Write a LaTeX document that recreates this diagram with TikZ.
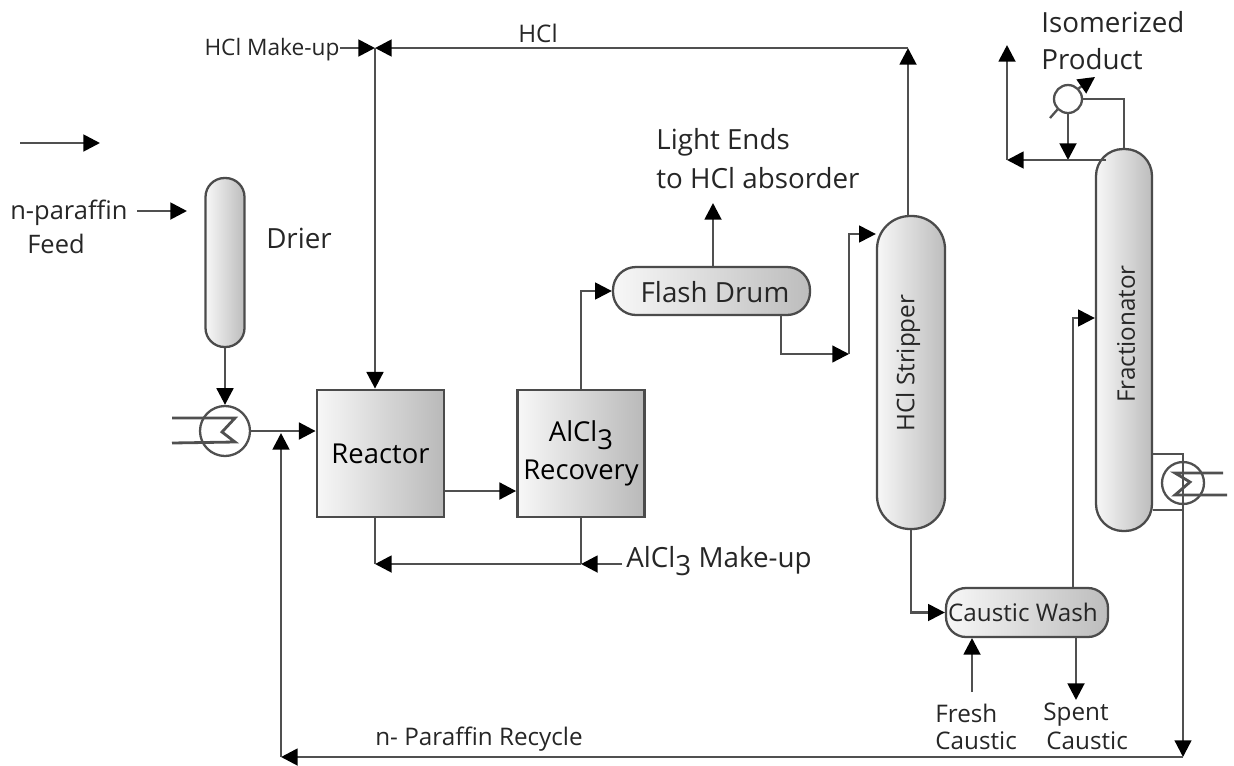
\documentclass[tikz,border=0pt]{standalone}
\usepackage{fontspec}
\setmainfont{Open Sans}
\usetikzlibrary{arrows.meta,calc}
\definecolor{pline}{RGB}{80,80,80}
\definecolor{pedge}{RGB}{75,75,75}

\begin{document}
\begin{tikzpicture}[
    x=0.02cm, y=-0.02cm,
    flow/.style={-{Triangle[length=9.5pt, width=9.5pt, color=black]}, pline, line width=1.6pt},
    pipe/.style={pline, line width=1.6pt},
    thin_pipe/.style={pline, line width=1.3pt},
    column/.style={draw=pedge, line width=1.3pt, inner sep=0pt, left color=gray!6, right color=gray!52},
    unit_box/.style={draw=pedge, line width=1.6pt, inner sep=0pt, minimum size=2.54cm, left color=gray!6, right color=gray!55, align=center, font=\fontsize{15.6}{21.5}\selectfont},
    exchanger/.style={circle, draw=pline, line width=1.3pt, fill=white, inner sep=0pt},
    big_label/.style={font=\fontsize{15.8}{21}\selectfont, text=black!85, inner sep=0pt},
    mid_label/.style={font=\fontsize{13.8}{18}\selectfont, text=black!85, inner sep=0pt},
    small_label/.style={font=\fontsize{12.9}{16}\selectfont, text=black!85, inner sep=0pt}
]
\useasboundingbox (0,0) rectangle (1234,765);

% Columns
\node[column, minimum width=39*0.02cm, minimum height=169*0.02cm, rounded corners=19*0.02cm] (drier) at (225,262.5) {};
\node[column, minimum width=68*0.02cm, minimum height=313*0.02cm, rounded corners=33*0.02cm] (stripper) at (911,372.5) {};
\node[column, minimum width=56*0.02cm, minimum height=382*0.02cm, rounded corners=27*0.02cm] (fractionator) at (1124,340) {};

% Drums
\node[column, minimum width=197*0.02cm, minimum height=48*0.02cm, rounded corners=23*0.02cm] (flash) at (711.5,291) {};
\node[column, minimum width=162*0.02cm, minimum height=49*0.02cm, rounded corners=20*0.02cm] (wash) at (1027,612.5) {};

% Boxes
\node[unit_box] (reactor) at (380.5,453.5) {Reactor};
\node[unit_box] (recovery) at (581,453.5) {AlCl\raisebox{-0.55ex}{3}\\Recovery};

% Exchangers
\node[exchanger, minimum size=50*0.02cm] (hx_feed) at (225,431) {};
\node[exchanger, minimum size=42*0.02cm] (hx_frac) at (1183,483) {};
\node[exchanger, minimum size=28*0.02cm] (cond) at (1068,99) {};

% Free ends
\coordinate (in_top) at (20,143);
\coordinate (in_top_end) at (100,143);
\coordinate (feed_a) at (137,211);
\coordinate (feed_b) at (187,211);
\coordinate (hcl_corner) at (375,48);
\coordinate (makeup_a) at (340,48);
\coordinate (stripper_top) at (908,216);
\coordinate (hcl_top) at (908,48);
\coordinate (alcl_join) at (581,564);
\coordinate (alcl_in) at (622,564);
\coordinate (flash_out) at (781,315);
\coordinate (flash_bend) at (849,354);
\coordinate (light_end) at (713,203);
\coordinate (fresh_a) at (972,692);
\coordinate (fresh_b) at (972,638);
\coordinate (spent_a) at (1076,637);
\coordinate (spent_b) at (1076,700);
\coordinate (frac_feed) at (1073,318);
\coordinate (prod_corner) at (1007,160);
\coordinate (prod_end) at (1007,45);
\coordinate (cond_vent) at (1050,118);
\coordinate (cond_tip) at (1095,77);
\coordinate (recycle_r) at (1183,757);
\coordinate (recycle_l) at (281,757);
\coordinate (recycle_up) at (281,433);

% Feed side
\draw[flow] (in_top) -- (in_top_end);
\draw[flow] (feed_a) -- (feed_b);
\draw[flow] (drier.south) -- (hx_feed.north);
\draw[flow] (hx_feed.east) -- (hx_feed.east -| reactor.west);
\draw[pipe] (172,418) -- (235,418) -- (222,432) -- (235,442) -- (172,443);

% HCl loop
\draw[flow] (stripper_top) -- (hcl_top);
\draw[flow] (hcl_top) -- (hcl_corner);
\draw[flow] (makeup_a) -- (hcl_corner);
\draw[flow] (hcl_corner) -- (reactor.north -| hcl_corner);

% Reactor and recovery
\draw[flow] (reactor.east |- 0,491) -- (recovery.west |- 0,491);
\draw[pipe] (recovery.south) -- (alcl_join);
\draw[flow] (alcl_in) -- (alcl_join);
\draw[flow] (alcl_join) -- (alcl_join -| hcl_corner);
\draw[pipe] (alcl_join -| hcl_corner) -- (reactor.south -| hcl_corner);
\draw[flow, thin_pipe] (recovery.north) |- (flash.west);

% Flash drum
\draw[flow] (flash.north -| light_end) -- (light_end);
\draw[flow, thin_pipe] (flash_out) |- (flash_bend);
\draw[flow, thin_pipe] (flash_bend) |- (stripper.west |- 0,234);

% Stripper bottom and caustic wash
\draw[flow, thin_pipe] (stripper.south) |- (wash.west);
\draw[flow] (fresh_a) -- (fresh_b);
\draw[flow] (spent_a) -- (spent_b);
\draw[flow, thin_pipe] (wash.north -| frac_feed) |- (fractionator.west |- frac_feed);

% Overhead of fractionator
\draw[thin_pipe] (fractionator.north) |- (cond.east);
\draw[flow] (cond.south) -- (cond.south |- prod_corner);
\draw[flow] (1106,160) -- (prod_corner);
\draw[flow] (prod_corner) -- (prod_end);
\draw[thin_pipe] (cond_vent) -- (cond.south west);
\draw[flow, thin_pipe] (cond.north east) -- (cond_tip);

% Reboiler and recycle
\draw[thin_pipe] (fractionator.east |- 0,454) -| (hx_frac.north);
\draw[thin_pipe] (fractionator.east |- 0,510) -| (hx_frac.south);
\draw[pipe] (1223,473) -- (1175,473) -- (1190,482) -- (1175,495) -- (1227,495);
\draw[flow, thin_pipe] (hx_frac.north |- 0,454) -- (recycle_r);
\draw[flow] (recycle_r) -- (recycle_l);
\draw[flow] (recycle_l) -- (recycle_up);

% Labels
\node[mid_label, anchor=west, font=\fontsize{14.5}{18}\selectfont] (feed_label) at (10,213) {n-paraffin};
\node[mid_label, font=\fontsize{14.5}{18}\selectfont] (feed_label2) at (56,244) {Feed};
\node[big_label] (drier_label) at (299,238) {Drier};
\node[small_label] (makeup_label) at (272,50) {HCl Make-up};
\node[mid_label] (hcl_label) at (538,33) {HCl};
\node[big_label, anchor=west] (light_label) at (656,142) {Light Ends};
\node[big_label, anchor=west] (light_label2) at (656,178) {to HCl absorder};
\node[big_label, anchor=west] (iso_label) at (1041,22) {Isomerized};
\node[big_label, anchor=west] (prod_label) at (1041,59) {Product};
\node[big_label] (flash_label) at (715,292) {Flash Drum};
\node[mid_label, rotate=90] (stripper_label) at (908,363) {HCl Stripper};
\node[mid_label, rotate=90] (frac_label) at (1126,334) {Fractionator};
\node[mid_label] (wash_label) at (1023,612) {Caustic Wash};
\node[big_label, anchor=west] (makeup2_label) at (626,561) {AlCl\raisebox{-0.55ex}{3} Make-up};
\node[mid_label, anchor=west] (fresh_label) at (935,713) {Fresh};
\node[mid_label, anchor=west] (fresh_label2) at (935,741) {Caustic};
\node[mid_label, anchor=west] (spent_label) at (1043,715) {Spent};
\node[mid_label, anchor=west] (spent_label2) at (1046,741) {Caustic};
\node[mid_label, anchor=west] (recycle_label) at (375,739) {n- Paraffin Recycle};

\end{tikzpicture}
\end{document}
